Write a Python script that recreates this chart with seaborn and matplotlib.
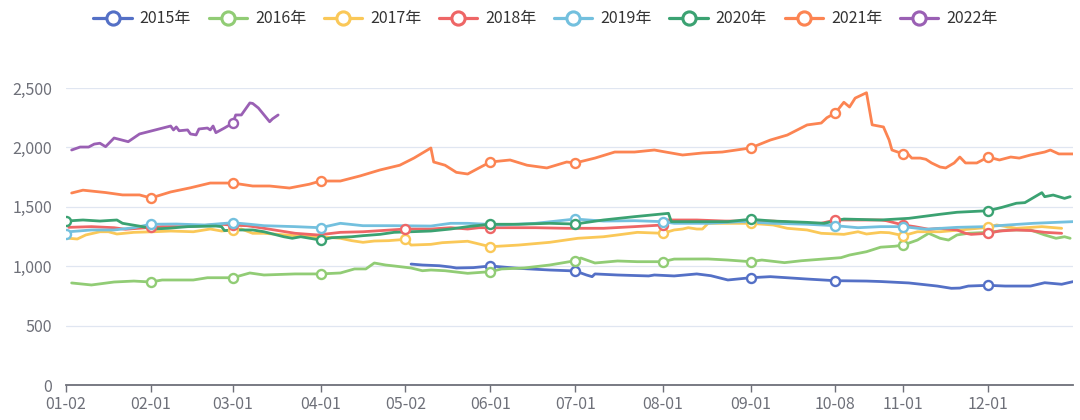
import pandas as pd
import matplotlib.pyplot as plt
import seaborn as sns
from matplotlib.lines import Line2D
from matplotlib.ticker import FuncFormatter

# category axis: MM-DD of every day, minus days the market is always closed
days = pd.date_range("2020-01-02", "2020-12-31")
closed = ["05-01"] + [f"10-0{d}" for d in range(1, 8)]
cats = [d.strftime("%m-%d") for d in days if d.strftime("%m-%d") not in closed]
pos = {c: i for i, c in enumerate(cats)}

tick_labels = ["01-02", "02-01", "03-01", "04-01", "05-02", "06-01",
               "07-01", "08-01", "09-01", "10-08", "11-01", "12-01"]

years = ["2015年", "2016年", "2017年", "2018年", "2019年", "2020年", "2021年", "2022年"]
colors = ["#5470c6", "#91cc75", "#fac858", "#ee6666", "#73c0de", "#3ba272", "#fc8452", "#9a60b4"]

d2015 = ["05-04", "05-08", "05-14", "05-18", "05-20", "05-26", "06-01", "06-11", "06-22", "07-01",
         "07-05", "07-07", "07-08", "07-16", "07-27", "07-29", "08-05", "08-13", "08-18", "08-24",
         "09-01", "09-08", "09-21", "10-08", "10-19", "10-24", "11-03", "11-13", "11-18", "11-21",
         "11-24", "12-01", "12-07", "12-16", "12-21", "12-27", "12-31"]
v2015 = [1018, 1010, 1004, 993, 985, 988, 1002, 982, 968, 960,
         926, 912, 935, 926, 918, 926, 918, 935, 920, 884,
         903, 912, 892, 878, 875, 871, 859, 833, 814, 816,
         833, 839, 833, 833, 861, 848, 870]

d2016 = ["01-04", "01-11", "01-19", "01-26", "02-01", "02-05", "02-16", "02-21", "03-01", "03-07",
         "03-12", "03-23", "04-01", "04-08", "04-13", "04-17", "04-20", "04-24", "04-27", "05-04",
         "05-08", "05-11", "05-16", "05-24", "06-01", "06-05", "06-13", "06-22", "07-01", "07-03",
         "07-08", "07-16", "07-23", "08-01", "08-05", "08-17", "08-24", "09-01", "09-05", "09-13",
         "09-19", "10-10", "10-13", "10-19", "10-24", "10-29", "11-01", "11-06", "11-10", "11-14",
         "11-17", "11-20", "11-24", "12-01", "12-08", "12-16", "12-21", "12-25", "12-28", "12-30"]
v2016 = [859, 842, 867, 875, 867, 884, 884, 903, 903, 943,
         926, 935, 935, 943, 977, 977, 1027, 1010, 1002, 985,
         962, 968, 962, 940, 954, 977, 985, 1010, 1046, 1069,
         1027, 1044, 1038, 1038, 1060, 1061, 1052, 1038, 1052, 1030,
         1046, 1072, 1094, 1122, 1160, 1168, 1178, 1220, 1277, 1235,
         1220, 1263, 1277, 1285, 1305, 1305, 1263, 1235, 1248, 1235]

d2017 = ["01-03", "01-06", "01-09", "01-14", "01-17", "01-20", "01-26", "02-02", "02-08", "02-16",
         "02-22", "02-26", "03-01", "03-04", "03-08", "03-12", "03-23", "04-02", "04-08", "04-12",
         "04-16", "04-20", "04-25", "05-02", "05-04", "05-11", "05-15", "05-24", "06-01", "06-11",
         "06-22", "07-02", "07-11", "07-16", "07-23", "08-01", "08-05", "08-08", "08-10", "08-13",
         "08-15", "08-17", "08-29", "09-01", "09-09", "09-14", "09-21", "09-26", "10-11", "10-16",
         "10-19", "10-24", "10-27", "11-01", "11-06", "11-14", "11-21", "12-01", "12-04", "12-11",
         "12-20", "12-27"]
v2017 = [1235, 1229, 1263, 1290, 1290, 1271, 1285, 1290, 1296, 1290,
         1313, 1296, 1305, 1313, 1277, 1277, 1257, 1246, 1235, 1215,
         1201, 1212, 1215, 1226, 1178, 1184, 1198, 1210, 1164, 1178,
         1201, 1235, 1248, 1263, 1285, 1277, 1305, 1313, 1324, 1313,
         1313, 1361, 1361, 1361, 1347, 1319, 1305, 1277, 1268, 1290,
         1271, 1285, 1282, 1257, 1290, 1290, 1305, 1327, 1347, 1319,
         1333, 1319]

d2018 = ["01-03", "01-11", "01-19", "01-23", "02-01", "02-05", "02-14", "02-26", "03-01", "03-06",
         "03-12", "03-23", "03-31", "04-08", "04-16", "05-02", "05-11", "05-18", "05-24", "05-28",
         "06-01", "06-05", "06-17", "06-28", "07-11", "07-22", "08-01", "08-02", "08-13", "08-23",
         "08-31", "09-09", "09-19", "09-26", "10-08", "10-16", "10-24", "10-26", "11-01", "11-05",
         "11-10", "11-14", "11-20", "11-23", "11-25", "12-01", "12-05", "12-11", "12-16", "12-21",
         "12-27"]
v2018 = [1327, 1333, 1324, 1311, 1327, 1333, 1333, 1353, 1345, 1341,
         1319, 1277, 1263, 1285, 1290, 1313, 1313, 1324, 1313, 1324,
         1324, 1324, 1324, 1319, 1319, 1333, 1347, 1389, 1389, 1380,
         1380, 1380, 1361, 1361, 1389, 1389, 1389, 1383, 1347, 1333,
         1311, 1319, 1305, 1277, 1268, 1277, 1296, 1305, 1300, 1285,
         1277]

d2019 = ["01-02", "01-03", "01-11", "01-19", "01-26", "02-01", "02-10", "02-20", "03-01", "03-07",
         "03-12", "03-23", "04-01", "04-08", "04-16", "04-27", "05-11", "05-18", "05-24", "06-05",
         "06-17", "07-01", "07-11", "07-22", "08-01", "08-05", "08-17", "08-29", "09-09", "09-21",
         "10-08", "10-16", "10-24", "11-01", "11-09", "11-20", "11-30", "12-08", "12-17", "12-31"]
v2019 = [1268, 1290, 1305, 1305, 1324, 1353, 1355, 1347, 1366, 1353,
         1341, 1333, 1324, 1361, 1341, 1341, 1338, 1361, 1361, 1347,
         1361, 1397, 1380, 1383, 1375, 1361, 1361, 1375, 1361, 1353,
         1341, 1324, 1333, 1333, 1311, 1327, 1333, 1347, 1361, 1375]

d2020 = ["01-02", "01-08", "01-14", "01-20", "01-22", "01-29", "02-02", "02-07", "02-14", "02-24",
         "02-26", "02-27", "03-02", "03-08", "03-12", "03-19", "03-22", "03-25", "04-01", "04-05",
         "04-12", "04-16", "04-22", "04-27", "05-11", "05-18", "05-24", "06-01", "06-11", "06-22",
         "07-01", "07-11", "07-22", "08-03", "08-04", "08-17", "08-24", "09-01", "09-09", "09-21",
         "09-27", "10-11", "10-24", "11-03", "11-14", "11-20", "12-01", "12-06", "12-11", "12-14",
         "12-16", "12-20", "12-21", "12-24", "12-28", "12-30"]
v2020 = [1380, 1389, 1380, 1389, 1361, 1333, 1313, 1319, 1333, 1338,
         1333, 1300, 1305, 1305, 1290, 1248, 1235, 1248, 1220, 1240,
         1248, 1257, 1268, 1285, 1296, 1313, 1333, 1353, 1353, 1361,
         1355, 1389, 1417, 1445, 1375, 1375, 1375, 1395, 1380, 1369,
         1361, 1397, 1389, 1403, 1437, 1454, 1467, 1496, 1530, 1535,
         1563, 1619, 1585, 1599, 1571, 1585]

d2021 = ["01-04", "01-08", "01-16", "01-22", "01-28", "02-01", "02-08", "02-15", "02-22", "03-01",
         "03-08", "03-14", "03-21", "03-28", "04-01", "04-08", "04-15", "04-22", "04-29", "05-05",
         "05-11", "05-12", "05-16", "05-20", "05-24", "05-28", "06-01", "06-08", "06-14", "06-21",
         "06-28", "07-01", "07-08", "07-15", "07-22", "07-29", "08-02", "08-08", "08-15", "08-22",
         "09-01", "09-08", "09-14", "09-21", "09-26", "09-28", "10-08", "10-11", "10-13", "10-15",
         "10-19", "10-21", "10-25", "10-27", "10-28", "10-31", "11-01", "11-02", "11-04", "11-07",
         "11-09", "11-11", "11-14", "11-16", "11-19", "11-21", "11-23", "11-27", "12-01", "12-05",
         "12-09", "12-12", "12-16", "12-21", "12-23", "12-26", "12-31"]
v2021 = [1616, 1640, 1620, 1600, 1600, 1574, 1625, 1660, 1700, 1700,
         1675, 1675, 1658, 1690, 1717, 1717, 1760, 1810, 1850, 1910,
         1995, 1877, 1850, 1790, 1776, 1827, 1877, 1894, 1850, 1827,
         1877, 1869, 1910, 1961, 1961, 1978, 1961, 1936, 1953, 1961,
         1995, 2062, 2104, 2189, 2205, 2250, 2290, 2380, 2340, 2415,
         2460, 2190, 2172, 2062, 1978, 1953, 1945, 1961, 1910, 1910,
         1900, 1869, 1835, 1827, 1869, 1919, 1869, 1869, 1919, 1894,
         1919, 1910, 1936, 1961, 1978, 1945, 1945]

d2022 = ["01-04", "01-07", "01-10", "01-12", "01-14", "01-16", "01-19", "01-24", "01-28", "02-08",
         "02-09", "02-10", "02-11", "02-14", "02-15", "02-17", "02-18", "02-21", "02-22", "02-23",
         "02-24", "02-27", "03-01", "03-02", "03-04", "03-07", "03-08", "03-10", "03-14", "03-15",
         "03-17"]
v2022 = [1978, 2003, 2003, 2028, 2035, 2006, 2079, 2048, 2113, 2180,
         2147, 2172, 2140, 2147, 2113, 2105, 2155, 2163, 2147, 2180,
         2124, 2163, 2205, 2273, 2273, 2374, 2370, 2332, 2216, 2240,
         2273]

series = [(d2015, v2015), (d2016, v2016), (d2017, v2017), (d2018, v2018),
          (d2019, v2019), (d2020, v2020), (d2021, v2021), (d2022, v2022)]

frames = []
for year, (dates, vals) in zip(years, series):
    frames.append(pd.DataFrame({"date": dates, "value": vals, "year": year}))
df = pd.concat(frames, ignore_index=True)
df["x"] = df["date"].map(pos)
df["marked"] = df["date"].isin(tick_labels)

sns.set_theme(style="white")
plt.rcParams["font.family"] = ["Noto Sans CJK SC", "DejaVu Sans"]

fig = plt.figure(figsize=(10.8, 4.2), dpi=100)
ax = fig.add_axes([0.0611, 0.0833, 0.9324, 0.7072])

for year, c in zip(years, colors):
    sub = df[df["year"] == year]
    sns.lineplot(data=sub, x="x", y="value", color=c, lw=2.0, ax=ax, sort=False,
                 estimator=None, legend=False, zorder=3)
    mk = sub[sub["marked"]]
    ax.plot(mk["x"], mk["value"], "o", ms=6.5, mfc="white", mec=c, mew=1.7, zorder=4)

ax.set_xlim(0, len(cats) - 1)
ax.set_ylim(0, 2500)
ax.set_yticks(range(0, 2501, 500))
ax.yaxis.set_major_formatter(FuncFormatter(lambda v, p: f"{int(v):,}"))
ax.set_xticks([pos[t] for t in tick_labels])
ax.set_xticklabels(tick_labels)
ax.grid(axis="y", color="#e0e6f1", lw=0.9)
ax.set_axisbelow(True)
for s in ["top", "right", "left"]:
    ax.spines[s].set_visible(False)
ax.spines["bottom"].set_color("#6e7079")
ax.spines["bottom"].set_linewidth(1.3)
ax.tick_params(axis="x", colors="#6e7079", labelsize=11.5, length=5, width=1, direction="out",
               bottom=True, pad=3)
ax.tick_params(axis="y", colors="#6e7079", labelsize=11.5, length=0, pad=10)
ax.set_xlabel("")
ax.set_ylabel("")

handles = [Line2D([0], [0], color=c, lw=2.3, marker="o", ms=9.5, mfc="white", mec=c, mew=2.2)
           for c in colors]
fig.legend(handles, years, loc="upper center", bbox_to_anchor=(0.505, 1.01), ncol=8,
           frameon=False, fontsize=11.5, handlelength=2.4, handletextpad=0.5,
           columnspacing=1.1, labelcolor="#333333")

fig.savefig("out.png", dpi=100)
